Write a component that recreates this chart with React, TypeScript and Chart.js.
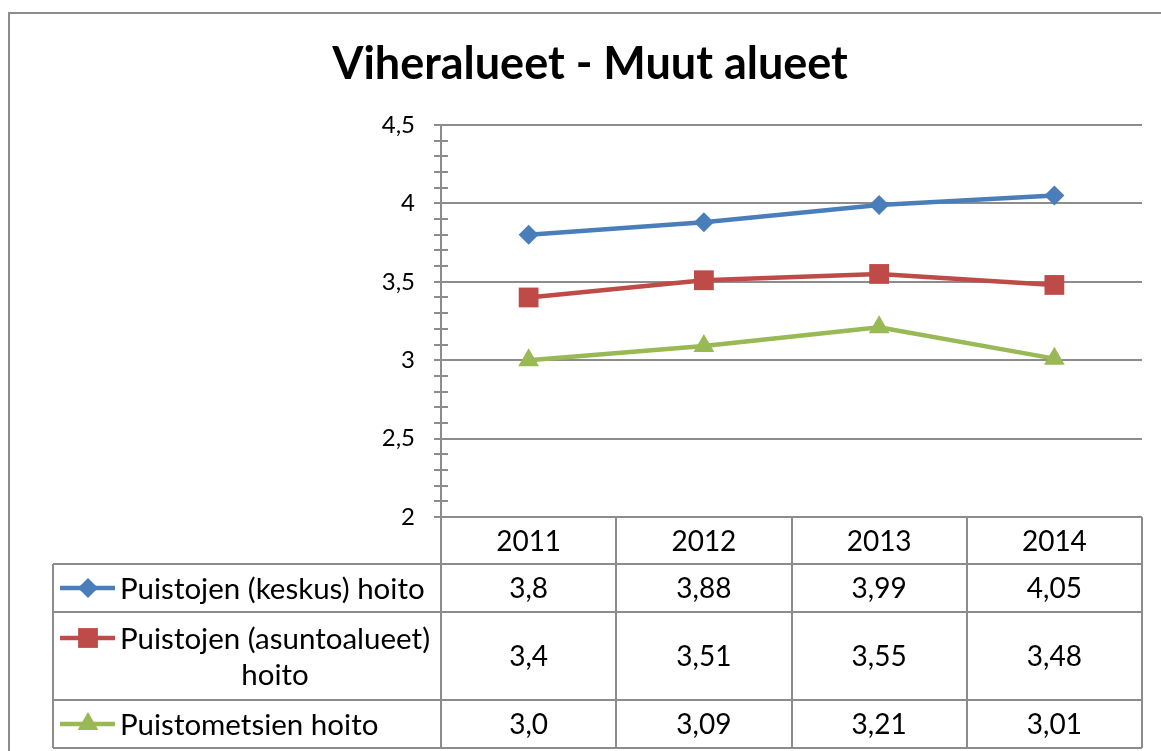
import React, { useEffect, useRef } from "react";
import { Chart, registerables } from "chart.js";

Chart.register(...registerables);

const TITLE = "Viheralueet - Muut alueet";
const years = ["2011", "2012", "2013", "2014"];
const seriesNames = ["Puistojen (keskus) hoito", "Puistojen (asuntoalueet) hoito", "Puistometsien hoito"];
const keskus = [3.8, 3.88, 3.99, 4.05];
const asuntoalueet = [3.4, 3.51, 3.55, 3.48];
const puistometsat = [3.0, 3.09, 3.21, 3.01];
const colors = ["#4A7EBB", "#BE4B48", "#98B954"];
const markers = ["rectRot", "rect", "triangle"];
const yTicks = [2, 2.5, 3, 3.5, 4, 4.5];

const FONT = "Lato, 'Open Sans', sans-serif";
const GRID = "#8c8c8c";

const fmt = (v: number) => (Number.isInteger(v) ? v.toFixed(1) : String(v)).replace(".", ",");
const fmtTick = (v: number) => String(v).replace(".", ",");

export default function App() {
  const ref = useRef<HTMLCanvasElement | null>(null);
  useEffect(() => {
    const seriesData = [keskus, asuntoalueet, puistometsat];
    const rowTops = [564, 612, 700];
    const rowBottoms = [612, 700, 748];

    function drawMarker(ctx: CanvasRenderingContext2D, style: string, x: number, y: number, r: number) {
      ctx.beginPath();
      if (style === "rectRot") {
        ctx.moveTo(x, y - r);
        ctx.lineTo(x + r, y);
        ctx.lineTo(x, y + r);
        ctx.lineTo(x - r, y);
      } else if (style === "rect") {
        const s = r * Math.SQRT1_2;
        ctx.rect(x - s, y - s, 2 * s, 2 * s);
      } else {
        ctx.moveTo(x, y - r);
        ctx.lineTo(x + r * Math.sin(Math.PI / 3), y + r / 2);
        ctx.lineTo(x - r * Math.sin(Math.PI / 3), y + r / 2);
      }
      ctx.closePath();
      ctx.fill();
    }

    const tablePlugin = {
      id: "tablePlugin",
      afterDraw(chart: any) {
        const ctx = chart.ctx as CanvasRenderingContext2D;
        const area = chart.chartArea;
        const xs = chart.scales.x;
        const ys = chart.scales.y;
        ctx.save();
        // outer border
        ctx.strokeStyle = GRID;
        ctx.lineWidth = 2;
        ctx.beginPath();
        ctx.moveTo(9, 760);
        ctx.lineTo(9, 13);
        ctx.lineTo(1170, 13);
        ctx.stroke();
        // title
        ctx.fillStyle = "#000";
        ctx.font = `bold 45px ${FONT}`;
        ctx.textAlign = "center";
        ctx.textBaseline = "alphabetic";
        ctx.fillText(TITLE, 590, 79);
        // minor ticks
        ctx.strokeStyle = GRID;
        ctx.lineWidth = 2;
        for (let i = 0; i <= 25; i++) {
          if (i % 5 === 0) continue;
          const v = 2 + i * 0.1;
          const y = Math.round(ys.getPixelForValue(v));
          ctx.beginPath();
          ctx.moveTo(area.left - 7, y);
          ctx.lineTo(area.left + 7, y);
          ctx.stroke();
        }
        // table grid
        const n = years.length;
        const colW = (area.right - area.left) / n;
        const tableLeft = 53;
        const tableBottom = rowBottoms[rowBottoms.length - 1];
        ctx.beginPath();
        for (let i = 0; i <= n; i++) {
          const x = Math.round(area.left + i * colW);
          ctx.moveTo(x, area.bottom);
          ctx.lineTo(x, tableBottom);
        }
        ctx.moveTo(tableLeft, rowTops[0]);
        ctx.lineTo(tableLeft, tableBottom);
        for (const y of [...rowTops, tableBottom]) {
          ctx.moveTo(tableLeft, y);
          ctx.lineTo(area.right, y);
        }
        ctx.stroke();
        // header years
        ctx.fillStyle = "#000";
        ctx.font = `28px ${FONT}`;
        ctx.textAlign = "center";
        ctx.textBaseline = "middle";
        years.forEach((yr, i) => {
          ctx.fillText(yr, xs.getPixelForValue(i), (area.bottom + rowTops[0]) / 2 + 1);
        });
        // rows
        seriesData.forEach((vals, r) => {
          const cy = (rowTops[r] + rowBottoms[r]) / 2;
          ctx.font = `28px ${FONT}`;
          ctx.fillStyle = "#000";
          ctx.textAlign = "center";
          vals.forEach((v, i) => {
            ctx.fillText(fmt(v), xs.getPixelForValue(i), cy + 1);
          });
          // legend key + label
          ctx.font = `29.5px ${FONT}`;
          const name = seriesNames[r];
          let lines: string[] = [name];
          if (ctx.measureText(name).width > area.left - 120 - 2) {
            const idx = name.lastIndexOf(" ");
            lines = [name.slice(0, idx), name.slice(idx + 1)];
          }
          const lineH = 36;
          const firstY = cy - ((lines.length - 1) * lineH) / 2;
          ctx.strokeStyle = colors[r];
          ctx.lineWidth = 4.5;
          ctx.beginPath();
          ctx.moveTo(60, firstY);
          ctx.lineTo(115, firstY);
          ctx.stroke();
          const ds = chart.data.datasets[r];
          ctx.fillStyle = colors[r];
          drawMarker(ctx, markers[r], 88, firstY, ds.pointRadius);
          ctx.fillStyle = "#000";
          ctx.textAlign = "left";
          ctx.fillText(lines[0], 120, firstY + 1);
          if (lines.length > 1) {
            const w0 = ctx.measureText(lines[0]).width;
            ctx.textAlign = "center";
            ctx.fillText(lines[1], 120 + w0 / 2, firstY + lineH + 1);
          }
        });
        ctx.restore();
      },
    };

    const radii = [10, 14, 12];
    const chart = new Chart(ref.current as HTMLCanvasElement, {
      type: "line",
      data: {
        labels: years,
        datasets: seriesData.map((d, i) => ({
          label: seriesNames[i],
          data: d,
          borderColor: colors[i],
          backgroundColor: colors[i],
          borderWidth: 4.5,
          pointStyle: markers[i] as any,
          pointRadius: radii[i],
          pointBorderWidth: 0,
          pointBorderColor: colors[i],
          pointBackgroundColor: colors[i],
          tension: 0,
        })),
      },
      options: {
        animation: false,
        responsive: false,
        maintainAspectRatio: false,
        layout: { padding: { top: 125, right: 19, left: 0, bottom: 0 } },
        plugins: { legend: { display: false }, title: { display: false }, tooltip: { enabled: false } },
        scales: {
          x: {
            type: "category",
            offset: true,
            grid: { display: false },
            border: { display: false },
            ticks: { display: false },
            afterFit: (s: any) => {
              s.height = 751 - 517;
            },
          },
          y: {
            min: 2,
            max: 4.5,
            afterBuildTicks: (s: any) => {
              s.ticks = yTicks.map((v) => ({ value: v }));
            },
            ticks: {
              callback: (v: any) => fmtTick(Number(v)),
              color: "#000",
              font: { family: FONT, size: 24 },
              padding: 19,
            },
            grid: { color: GRID, lineWidth: 2, tickLength: 7, drawTicks: true },
            border: { display: true, color: GRID, width: 2 },
            afterFit: (s: any) => {
              s.width = 441;
            },
          },
        },
      },
      plugins: [tablePlugin],
    } as any);
    return () => chart.destroy();
  }, []);
  return (
    <div style={{ position: "fixed", left: 0, top: 0, width: 1161, height: 751, background: "#fff" }}>
      <canvas ref={ref} width={1161} height={751} style={{ display: "block" }} />
    </div>
  );
}
